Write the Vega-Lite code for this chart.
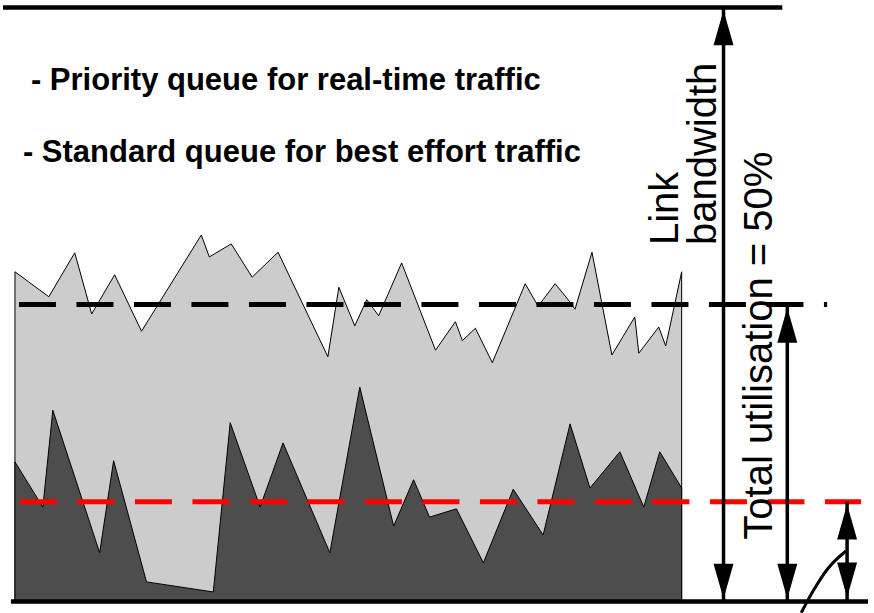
{
  "$schema": "https://vega.github.io/schema/vega-lite/v6.json",
  "width": 874,
  "height": 613,
  "padding": 0,
  "autosize": {"type": "fit", "contains": "padding"},
  "background": "white",
  "config": {"view": {"stroke": null}},
  "datasets": {
    "best_effort": [
      {"t": 12, "p": 55.5}, {"t": 46, "p": 51.3}, {"t": 72, "p": 58.7}, {"t": 89, "p": 48.4},
      {"t": 112, "p": 55.0}, {"t": 139, "p": 45.5}, {"t": 199, "p": 61.7}, {"t": 207, "p": 58.0},
      {"t": 229, "p": 60.2}, {"t": 250, "p": 54.6}, {"t": 276, "p": 58.8}, {"t": 326, "p": 41.2},
      {"t": 337, "p": 52.9}, {"t": 353, "p": 46.4}, {"t": 365, "p": 50.8}, {"t": 377, "p": 48.1},
      {"t": 400, "p": 57.0}, {"t": 434, "p": 42.3}, {"t": 454, "p": 47.1}, {"t": 461, "p": 43.9},
      {"t": 474, "p": 46.0}, {"t": 491, "p": 40.2}, {"t": 524, "p": 53.5}, {"t": 537, "p": 49.7},
      {"t": 554, "p": 53.5}, {"t": 569, "p": 50.4}, {"t": 574, "p": 49.2}, {"t": 591, "p": 58.8},
      {"t": 611, "p": 41.5}, {"t": 634, "p": 47.9}, {"t": 638, "p": 41.8}, {"t": 658, "p": 46.2},
      {"t": 665, "p": 43.0}, {"t": 681, "p": 55.5}
    ],
    "real_time": [
      {"t": 12, "p": 23.5}, {"t": 40, "p": 15.9}, {"t": 50, "p": 32.2}, {"t": 97, "p": 8.2},
      {"t": 111, "p": 23.7}, {"t": 144, "p": 3.3}, {"t": 211, "p": 1.6}, {"t": 228, "p": 30.1},
      {"t": 258, "p": 15.9}, {"t": 281, "p": 26.7}, {"t": 328, "p": 8.2}, {"t": 358, "p": 36.1},
      {"t": 392, "p": 12.7}, {"t": 412, "p": 20.5}, {"t": 428, "p": 14.2}, {"t": 455, "p": 15.6},
      {"t": 482, "p": 6.5}, {"t": 512, "p": 18.9}, {"t": 542, "p": 11.2}, {"t": 569, "p": 29.9},
      {"t": 589, "p": 19.1}, {"t": 619, "p": 25.2}, {"t": 643, "p": 15.9}, {"t": 659, "p": 25.2},
      {"t": 681, "p": 19.1}
    ],
    "bounds": [
      {"name": "link capacity", "t": 0, "t2": 782, "p": 100},
      {"name": "zero", "t": 8, "t2": 868, "p": 0}
    ],
    "avg_total": [{"t": 16, "t2": 827, "p": 50}],
    "avg_priority": [{"t": 17, "t2": 861, "p": 16.8}],
    "shafts": [
      {"name": "link bandwidth", "t": 723, "p": 100, "p2": 0},
      {"name": "total utilisation", "t": 787, "p": 50, "p2": 0},
      {"name": "priority share", "t": 847, "p": 16.8, "p2": 0}
    ],
    "heads_up": [
      {"t": 723, "p": 96.6}, {"t": 787, "p": 46.5}, {"t": 847, "p": 13.4}
    ],
    "heads_down": [
      {"t": 723, "p": 3.4}, {"t": 787, "p": 3.4}, {"t": 847, "p": 3.6}
    ],
    "leader": [
      {"t": 801, "p": -1.9}, {"t": 813, "p": 1.8}, {"t": 828, "p": 5.6}, {"t": 846, "p": 8.5}
    ],
    "labels_h": [
      {"t": 28, "p": 86.1, "label": "- Priority queue for real-time traffic"},
      {"t": 20, "p": 74.0, "label": "- Standard queue for best effort traffic"}
    ],
    "labels_v": [
      {"t": 677, "p": 60.0, "label": "Link"},
      {"t": 715, "p": 60.0, "label": "bandwidth"},
      {"t": 772, "p": 10.4, "label": "Total utilisation = 50%"}
    ]
  },
  "layer": [
    {
      "data": {"name": "best_effort"},
      "mark": {"type": "area", "fill": "#cccccc", "stroke": "black", "strokeWidth": 1, "interpolate": "linear"},
      "encoding": {
        "x": {"field": "t", "type": "quantitative", "scale": {"domain": [0, 874], "nice": false, "zero": false}, "axis": null},
        "y": {"field": "p", "type": "quantitative", "scale": {"domain": [-1.94, 101.26], "nice": false, "zero": false}, "axis": null},
        "y2": {"datum": 0}
      }
    },
    {
      "data": {"name": "real_time"},
      "mark": {"type": "area", "fill": "#4d4d4d", "stroke": "black", "strokeWidth": 1, "interpolate": "linear"},
      "encoding": {
        "x": {"field": "t", "type": "quantitative", "scale": {"domain": [0, 874], "nice": false, "zero": false}, "axis": null},
        "y": {"field": "p", "type": "quantitative", "scale": {"domain": [-1.94, 101.26], "nice": false, "zero": false}, "axis": null},
        "y2": {"datum": 0}
      }
    },
    {
      "data": {"name": "avg_total"},
      "mark": {"type": "rule", "stroke": "black", "strokeWidth": 5, "strokeDash": [37, 20.5]},
      "encoding": {
        "x": {"field": "t", "type": "quantitative", "axis": null},
        "x2": {"field": "t2"},
        "y": {"field": "p", "type": "quantitative", "axis": null}
      }
    },
    {
      "data": {"name": "avg_priority"},
      "mark": {"type": "rule", "stroke": "#ff0000", "strokeWidth": 5, "strokeDash": [37, 20.5]},
      "encoding": {
        "x": {"field": "t", "type": "quantitative", "axis": null},
        "x2": {"field": "t2"},
        "y": {"field": "p", "type": "quantitative", "axis": null}
      }
    },
    {
      "data": {"name": "bounds"},
      "mark": {"type": "rule", "stroke": "black", "strokeWidth": 4.5},
      "encoding": {
        "x": {"field": "t", "type": "quantitative", "axis": null},
        "x2": {"field": "t2"},
        "y": {"field": "p", "type": "quantitative", "axis": null}
      }
    },
    {
      "data": {"name": "shafts"},
      "mark": {"type": "rule", "stroke": "black", "strokeWidth": 3.5},
      "encoding": {
        "x": {"field": "t", "type": "quantitative", "axis": null},
        "y": {"field": "p", "type": "quantitative", "axis": null},
        "y2": {"field": "p2"}
      }
    },
    {
      "data": {"name": "heads_up"},
      "mark": {"type": "point", "shape": "M-0.571,1L0.571,1L0,-1Z", "size": 1225, "filled": true, "fill": "black", "stroke": null, "opacity": 1},
      "encoding": {
        "x": {"field": "t", "type": "quantitative", "axis": null},
        "y": {"field": "p", "type": "quantitative", "axis": null}
      }
    },
    {
      "data": {"name": "heads_down"},
      "mark": {"type": "point", "shape": "M-0.571,-1L0.571,-1L0,1Z", "size": 1225, "filled": true, "fill": "black", "stroke": null, "opacity": 1},
      "encoding": {
        "x": {"field": "t", "type": "quantitative", "axis": null},
        "y": {"field": "p", "type": "quantitative", "axis": null}
      }
    },
    {
      "data": {"name": "leader"},
      "mark": {"type": "line", "stroke": "black", "strokeWidth": 3, "interpolate": "monotone", "clip": true},
      "encoding": {
        "x": {"field": "t", "type": "quantitative", "axis": null},
        "y": {"field": "p", "type": "quantitative", "axis": null}
      }
    },
    {
      "data": {"name": "labels_h"},
      "mark": {"type": "text", "align": "left", "baseline": "alphabetic", "font": "Liberation Sans", "fontWeight": "bold", "fontSize": 31, "fill": "black"},
      "encoding": {
        "x": {"field": "t", "type": "quantitative", "axis": null},
        "y": {"field": "p", "type": "quantitative", "axis": null},
        "text": {"field": "label"}
      }
    },
    {
      "data": {"name": "labels_v"},
      "mark": {"type": "text", "angle": 270, "align": "left", "baseline": "alphabetic", "font": "Liberation Sans", "fontSize": 40, "fill": "black"},
      "encoding": {
        "x": {"field": "t", "type": "quantitative", "axis": null},
        "y": {"field": "p", "type": "quantitative", "axis": null},
        "text": {"field": "label"}
      }
    }
  ]
}
